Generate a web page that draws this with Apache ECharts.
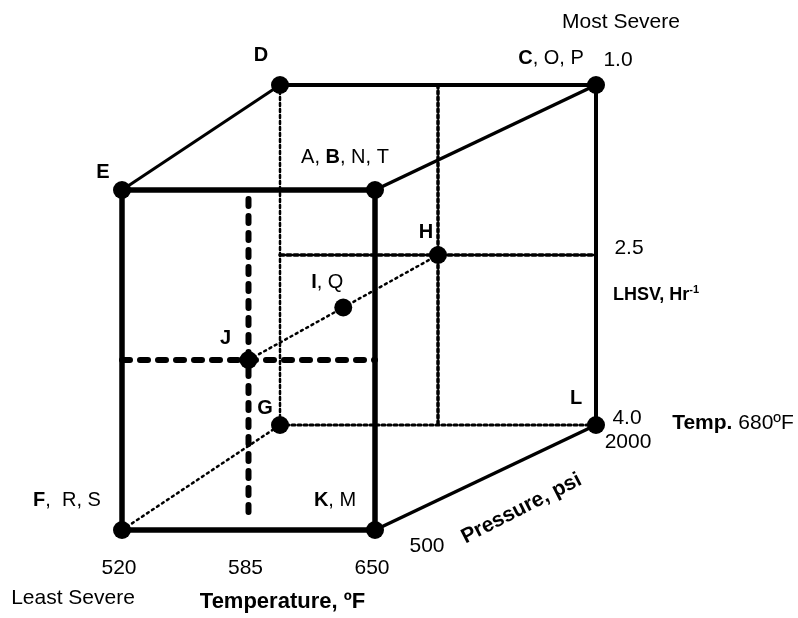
<!DOCTYPE html>
<html><head><meta charset="utf-8">
<script src="https://cdn.jsdelivr.net/npm/echarts@6/dist/echarts.min.js"></script>
<style>html,body{margin:0;padding:0;background:#fff}#c{width:798px;height:618px}</style>
</head><body><div id="c"></div><script>
// ---- data ----
const temperatures = [520, 585, 650];          // deg F
const lhsvValues = [1.0, 2.5, 4.0];            // Hr-1
const pressures = [500, 2000];                 // psi
const tempTickLabels = ['520', '585', '650'];
const lhsvTickLabels = ['1.0', '2.5', '4.0'];
const pressureTickLabels = ['500', '2000'];
const runLabels = [['D'], ['C', 'O', 'P'], ['E'], ['A', 'B', 'N', 'T'], ['H'], ['I', 'Q'], ['J'], ['G'], ['L'], ['F', ' R', 'S'], ['K', 'M']];
const runBold = ['D', 'C', 'E', 'B', 'H', 'I', 'J', 'G', 'L', 'F', 'K'];
const runTemps = [520, 650, 520, 650, 585, 585, 585, 520, 650, 520, 650];
const runLhsv = [1.0, 1.0, 1.0, 1.0, 2.5, 2.5, 2.5, 4.0, 4.0, 4.0, 4.0];
const runPressure = [2000, 2000, 500, 500, 2000, 1250, 500, 2000, 2000, 500, 500];

// ---- oblique projection of the design cube onto the page ----
const tMin = temperatures[0], tMax = temperatures[temperatures.length - 1];
const sMin = lhsvValues[0], sMax = lhsvValues[lhsvValues.length - 1];
const pMin = pressures[0], pMax = pressures[pressures.length - 1];
const FACE = { left: 122, right: 375, top: 190, height: 340 };
const DEPTH = { dxLeft: 158, dxRight: 221, dy: -105 };
function proj(T, S, P) {
  const d = (P - pMin) / (pMax - pMin);
  const t = (T - tMin) / (tMax - tMin);
  const s = (S - sMin) / (sMax - sMin);
  const left = FACE.left + DEPTH.dxLeft * d;
  const right = FACE.right + DEPTH.dxRight * d;
  return [left + t * (right - left), FACE.top + s * FACE.height + DEPTH.dy * d];
}
const tMid = temperatures[1], sMid = lhsvValues[1];

const FONT = "'Liberation Sans', Arial, Helvetica, sans-serif";
const series = [];
function seg(a, b, width, type, z) {
  series.push({
    type: 'line', data: [proj(...a), proj(...b)], showSymbol: false, silent: true, z: z,
    lineStyle: { color: '#000', width: width, type: type, cap: type === 'solid' ? 'butt' : 'round', opacity: 1 }, animation: false
  });
}
// hidden (dotted) edges and guides
seg([tMin, sMin, pMax], [tMin, sMax, pMax], 2.5, [3, 3], 1);   // D-G
seg([tMin, sMax, pMax], [tMax, sMax, pMax], 3, [3, 3], 1);     // G-L
seg([tMin, sMax, pMin], [tMin, sMax, pMax], 2.5, [2, 4], 1);   // F-G
seg([tMid, sMin, pMax], [tMid, sMax, pMax], 3.5, [3, 3], 1);   // back face T=585
seg([tMin, sMid, pMax], [tMax, sMid, pMax], 3.5, [4, 3], 1);   // back face LHSV=2.5
seg([tMid, sMid, pMin], [tMid, sMid, pMax], 2.5, [2, 4], 1);   // J-I-H
// front face guides (thick dashed)
seg([tMid, sMin + 0.08, pMin], [tMid, sMax - 0.1, pMin], 6, [7, 10], 2);
seg([tMin, sMid, pMin], [tMax, sMid, pMin], 6, [8, 10], 2);
// visible edges
seg([tMin, sMin, pMin], [tMax, sMin, pMin], 5.5, 'solid', 3);
seg([tMax, sMin, pMin], [tMax, sMax, pMin], 5.5, 'solid', 3);
seg([tMax, sMax, pMin], [tMin, sMax, pMin], 5.5, 'solid', 3);
seg([tMin, sMax, pMin], [tMin, sMin, pMin], 5.5, 'solid', 3);
seg([tMin, sMin, pMin], [tMin, sMin, pMax], 3, 'solid', 3);
seg([tMin, sMin, pMax], [tMax, sMin, pMax], 4, 'solid', 3);
seg([tMax, sMin, pMin], [tMax, sMin, pMax], 3.5, 'solid', 3);
seg([tMax, sMin, pMax], [tMax, sMax, pMax], 4, 'solid', 3);
seg([tMax, sMax, pMin], [tMax, sMax, pMax], 3.5, 'solid', 3);

// run points
const labelOffsets = [[-19, -30], [-45, -27], [-19, -18], [-30, -33], [-12, -23], [-16, -25], [-23, -22], [-15, -17], [-20, -27], [-55, -30], [-40, -30]];
const rich = {
  b: { fontFamily: FONT, fontWeight: 'bold', fontSize: 20, color: '#000' },
  n: { fontFamily: FONT, fontWeight: 'normal', fontSize: 20, color: '#000' }
};
series.push({
  type: 'scatter', z: 5, symbol: 'circle', symbolSize: 18, silent: true, animation: false,
  itemStyle: { color: '#000', opacity: 1 },
  data: runTemps.map((T, i) => ({
    value: proj(T, runLhsv[i], runPressure[i]),
    label: {
      show: true, position: 'inside', offset: labelOffsets[i], align: 'center', verticalAlign: 'middle', rich: rich,
      textBorderWidth: 0, opacity: 1,
      formatter: runLabels[i].map(tok => (tok.trim() === runBold[i] ? '{b|' + tok + '}' : '{n|' + tok + '}')).join('{n|, }')
    }
  }))
});

// tick labels and titles
const richT = {
  b: { fontFamily: FONT, fontWeight: 'bold', fontSize: 21, color: '#000' },
  n: { fontFamily: FONT, fontSize: 21, color: '#000' },
  lb: { fontFamily: FONT, fontWeight: 'bold', fontSize: 18, color: '#000' },
  sup: { fontFamily: FONT, fontWeight: 'bold', fontSize: 11, color: '#000', verticalAlign: 'top', padding: [0, 0, 10, 0] },
  tb: { fontFamily: FONT, fontWeight: 'bold', fontSize: 22, color: '#000' }
};
const txt = [];
function addText(pos, text, offset, opts) {
  txt.push({ value: pos, label: Object.assign({ show: true, position: 'inside', offset: offset, formatter: text, align: 'center', verticalAlign: 'middle', rich: richT, color: '#000', textBorderWidth: 0, opacity: 1, fontFamily: FONT, fontSize: 21 }, opts || {}) });
}
temperatures.forEach((T, i) => addText(proj(T, sMax, pMin), tempTickLabels[i], [-3, 38]));
const lhsvOff = [[22, -25], [33, -7], [31, -7]];
lhsvValues.forEach((S, i) => addText(proj(tMax, S, pMax), lhsvTickLabels[i], lhsvOff[i]));
const presOff = [[52, 16], [32, 17]];
pressures.forEach((P, i) => addText(proj(tMax, sMax, P), pressureTickLabels[i], presOff[i]));
addText(proj(tMax, sMin, pMax), 'Most Severe', [25, -63]);
addText(proj(tMin, sMax, pMin), 'Least Severe', [-49, 68]);
addText(proj(tMid, sMax, pMin), '{tb|Temperature, ºF}', [34, 72]);
addText(proj(tMax, sMax, (pMin + pMax) / 2), '{b|Pressure, psi}', [18, 44], { rotate: 27 });
addText(proj(tMax, sMid, pMax), '{lb|LHSV, Hr}{sup|-1}', [60, 40]);
addText(proj(tMax, sMax, pMax), '{b|Temp.}{n| 680ºF}', [137, -2]);

series.push({
  type: 'scatter', z: 6, symbol: 'circle', symbolSize: 1, silent: true, animation: false,
  itemStyle: { color: 'rgba(0,0,0,0)', opacity: 1 }, data: txt
});

const chart = echarts.init(document.getElementById('c'));
chart.setOption({
  backgroundColor: '#fff',
  animation: false,
  grid: { left: 0, right: 0, top: 0, bottom: 0 },
  xAxis: { type: 'value', min: 0, max: 798, show: false },
  yAxis: { type: 'value', min: 0, max: 618, inverse: true, show: false },
  series: series
});
</script></body></html>
